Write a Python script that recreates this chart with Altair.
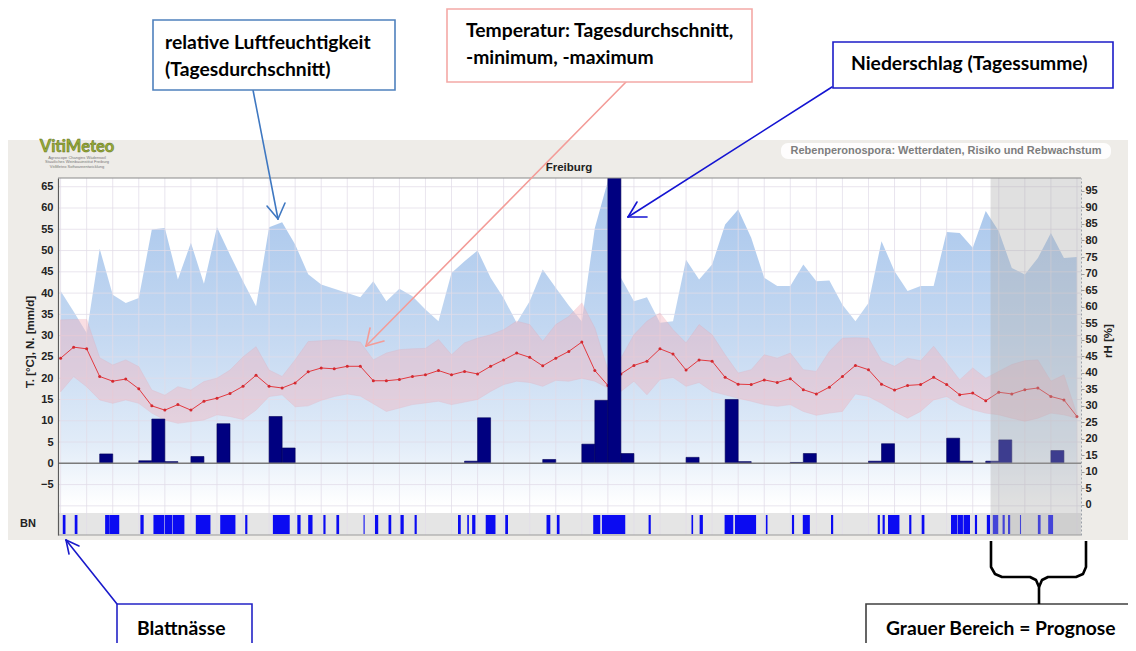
import altair as alt
import pandas as pd

# ---------------- data ----------------
day = list(range(79))

rel_humidity = [64.7, 58.5, 52.0, 77.5, 63.6, 61.1, 62.6, 83.3, 83.8, 68.2,
                79.3, 66.9, 84.0, 75.7, 67.7, 60.1, 84.0, 85.5, 78.8, 69.8,
                66.7, 65.4, 64.1, 62.8, 67.7, 61.6, 65.4, 63.1, 59.1, 55.6,
                70.2, 73.7, 77.0, 68.7, 62.6, 55.1, 61.6, 71.2, 65.7, 60.3,
                55.5, 83.8, 98.0, 68.7, 61.6, 62.8, 55.1, 55.6, 74.2, 68.2,
                72.7, 84.8, 89.4, 80.8, 68.7, 66.2, 66.2, 72.7, 67.7, 67.9,
                60.6, 55.6, 61.1, 79.8, 70.7, 64.7, 66.2, 66.2, 82.6, 82.3,
                77.8, 88.9, 82.8, 71.7, 69.7, 74.7, 82.3, 74.7, 75.0]

temp_mean = [24.7, 27.3, 26.9, 20.4, 19.3, 19.8, 17.5, 13.5, 12.5, 13.8,
             12.5, 14.6, 15.3, 16.4, 18.1, 20.7, 18.1, 17.7, 18.9, 21.5,
             22.4, 22.2, 22.8, 22.8, 19.4, 19.4, 19.7, 20.4, 20.8, 21.8,
             20.8, 21.6, 21.0, 22.8, 24.3, 25.9, 24.9, 22.9, 24.7, 26.3,
             28.5, 21.8, 18.3, 21.0, 23.0, 24.0, 26.9, 25.7, 21.9, 24.3,
             24.0, 20.2, 18.6, 18.5, 19.6, 19.0, 19.9, 17.3, 16.3, 17.9,
             20.4, 23.0, 22.0, 18.6, 17.2, 18.3, 18.5, 20.2, 18.5, 16.1,
             16.5, 14.7, 16.7, 16.3, 17.3, 17.7, 15.7, 14.9, 11.0]

temp_max = [33.7, 33.8, 33.8, 24.8, 23.1, 24.3, 22.7, 17.2, 16.0, 18.0,
            17.2, 19.2, 20.0, 21.9, 25.0, 27.4, 21.9, 20.4, 24.3, 28.6,
            28.8, 29.0, 28.8, 28.5, 24.3, 25.9, 26.7, 26.9, 27.0, 29.1,
            25.5, 28.3, 29.4, 30.2, 31.4, 33.4, 32.6, 28.7, 32.6, 34.5,
            37.7, 31.8, 22.0, 24.7, 30.2, 33.4, 35.3, 31.4, 28.3, 32.6,
            30.2, 25.5, 21.2, 22.0, 25.5, 24.7, 25.9, 22.0, 21.6, 26.3,
            29.4, 29.5, 29.4, 24.1, 22.8, 24.7, 24.1, 27.5, 23.6, 19.6,
            22.4, 20.0, 21.6, 23.2, 24.1, 24.3, 19.3, 20.8, 11.4]

temp_min = [16.8, 20.4, 18.0, 14.9, 14.1, 14.9, 14.1, 11.8, 10.2, 9.4,
            9.8, 10.2, 11.4, 11.0, 10.3, 12.5, 15.7, 16.1, 13.3, 13.5,
            14.8, 15.7, 16.3, 15.8, 14.0, 12.2, 13.0, 13.8, 14.2, 14.6,
            13.8, 14.4, 15.0, 16.9, 18.5, 19.3, 19.0, 18.1, 19.5, 19.3,
            20.0, 19.3, 17.7, 16.9, 19.3, 16.1, 19.7, 20.2, 18.1, 19.0,
            16.9, 16.1, 15.3, 14.6, 13.8, 13.4, 13.8, 12.2, 11.3, 11.8,
            12.2, 16.3, 15.7, 14.1, 12.2, 10.6, 12.2, 14.9, 15.7, 13.8,
            12.6, 11.8, 11.4, 10.6, 9.9, 10.6, 11.8, 11.4, 10.6]

precip = [0, 0, 0, 2.2, 0, 0, 0.6, 10.4, 0.4, 0,
          1.6, 0, 9.3, 0, 0, 0, 11.0, 3.6, 0, 0,
          0, 0, 0, 0, 0, 0, 0, 0, 0, 0,
          0, 0.5, 10.7, 0, 0, 0, 0, 0.9, 0, 0,
          4.5, 14.8, 75.0, 2.3, 0, 0, 0, 0, 1.4, 0,
          0, 15.0, 0.4, 0, 0, 0, 0.2, 2.3, 0, 0,
          0, 0, 0.5, 4.6, 0, 0, 0, 0, 5.9, 0.5,
          0, 0.5, 5.5, 0, 0, 0, 3.0, 0, 0]

# leaf wetness (Blattnaesse) periods, hours since start
bn_start_h = [4, 26, 82, 90, 147, 171, 192, 207, 249, 294, 340, 391, 436, 456, 484,
              508, 558, 579, 604, 626, 652, 732, 749, 758, 783, 819, 895, 914,
              981, 997, 1083, 1162, 1177, 1223, 1242, 1299, 1347, 1367, 1419,
              1505, 1514, 1524, 1563, 1586, 1640, 1652, 1663, 1684, 1706, 1717,
              1735, 1745, 1767, 1800, 1819]
bn_end_h = [9, 31, 90, 108, 153, 191, 206, 228, 276, 322, 344, 422, 442, 464, 488,
            513, 560, 585, 609, 632, 656, 737, 752, 764, 801, 824, 902, 919,
            994, 1040, 1087, 1165, 1183, 1239, 1281, 1302, 1351, 1380, 1423,
            1509, 1518, 1545, 1567, 1591, 1651, 1662, 1675, 1688, 1712, 1727,
            1739, 1749, 1769, 1805, 1828]

forecast_start_day = 71.37
y_left_ticks = list(range(-5, 70, 5))
y_right_ticks = list(range(0, 100, 5))
grid_days = list(range(0, 79, 2))
grid_levels = list(range(-10, 70, 5))

# ---------------- tables ----------------
daily = pd.DataFrame({"d": day, "rh": rel_humidity, "tmean": temp_mean,
                      "tmax": temp_max, "tmin": temp_min, "precip": precip})
daily["d1"] = daily["d"] + 1
bn = pd.DataFrame({"s": [h / 24 for h in bn_start_h], "e": [h / 24 for h in bn_end_h]})
one = pd.DataFrame({"a": [0]})

W, H = 1023, 357
X_DOM = [-0.2, 78.31]
XS = alt.Scale(domain=X_DOM, nice=False, zero=False)
YL = alt.Scale(domain=[-16.85, 67.05], nice=False, zero=False)
YR = alt.Scale(domain=[-9.08, 98.9], nice=False, zero=False)
AXF = "Liberation Sans"
CALLF = "Lato"

def X(field):
    return alt.X(field, type="quantitative", scale=XS, axis=None)

# ---------------- background ----------------
panel = alt.Chart(one).mark_rect(color="#eeece8").encode(
    x=alt.value(-50), x2=alt.value(1078), y=alt.value(-38), y2=alt.value(362))
plotbg = alt.Chart(one).mark_rect(color="#ffffff").encode(
    x=alt.value(0), x2=alt.value(W), y=alt.value(0), y2=alt.value(H))

grad = alt.Gradient(
    gradient="linear",
    stops=[alt.GradientStop(color="#a8c6ec", offset=0),
           alt.GradientStop(color="#c2d7f1", offset=0.45),
           alt.GradientStop(color="#e0ebf8", offset=0.8),
           alt.GradientStop(color="#ffffff", offset=1)],
    x1=1, x2=1, y1=0, y2=1)

humidity = alt.Chart(daily).mark_area(color=grad, interpolate="linear").encode(
    x=X("d"),
    y=alt.Y("rh:Q", scale=YR, axis=alt.Axis(
        orient="right", values=y_right_ticks, title=None, labelFont=AXF,
        labelFontWeight="bold", labelFontSize=11, labelColor="#222222",
        tickSize=3, tickColor="#9a9a9a", labelPadding=1, domainColor="#9aa0a8",
        domainDash=[2, 2], grid=False, zindex=3)),
    y2=alt.datum(0))

bn_band = alt.Chart(one).mark_rect(color="#e5e5e5").encode(
    x=alt.value(0), x2=alt.value(W), y=alt.value(335), y2=alt.value(357))

vgrid = alt.Chart(pd.DataFrame({"g": grid_days})).mark_rule(
    color="#e2dce8", strokeWidth=1, opacity=0.75).encode(
    x=X("g"), y=alt.value(0), y2=alt.value(H))
hgrid = alt.Chart(pd.DataFrame({"v": grid_levels})).mark_rule(
    color="#e2dce8", strokeWidth=1, opacity=0.75).encode(
    y=alt.Y("v:Q", scale=YL, axis=None), x=alt.value(0), x2=alt.value(W))

band = alt.Chart(daily).mark_area(
    color="#f2b3bd", opacity=0.42, stroke="#ea96a2", strokeWidth=0.8,
    strokeOpacity=0.65, interpolate="linear").encode(
    x=X("d"), y=alt.Y("tmax:Q", scale=YL, axis=None), y2="tmin:Q")

tline = alt.Chart(daily).mark_line(
    color="#e23a40", strokeWidth=1,
    point=alt.OverlayMarkDef(filled=True, size=9, color="#d42a30")).encode(
    x=X("d"),
    y=alt.Y("tmean:Q", scale=YL, axis=alt.Axis(
        orient="left", values=y_left_ticks, title=None, labelFont=AXF,
        labelFontWeight="bold", labelFontSize=11, labelColor="#222222",
        ticks=False, labelPadding=5, domainColor="#5a5a5a", domainWidth=1.2,
        grid=False, zindex=3)))

bars = alt.Chart(daily).transform_filter("datum.precip > 0").mark_rect(
    color="#000080", stroke="#000058", strokeWidth=0.6, clip=True).encode(
    x=X("d"), x2="d1:Q", y=alt.Y("precip:Q", scale=YL, axis=None), y2=alt.datum(0))

zero = alt.Chart(one).mark_rule(color="#7a7a7a", strokeWidth=1.5).encode(
    y=alt.Y(datum=0, type="quantitative", scale=YL, axis=None),
    x=alt.value(0), x2=alt.value(W))

bnbars = alt.Chart(bn).mark_rect(color="#0b0bf2").encode(
    x=X("s"), x2="e:Q", y=alt.value(337), y2=alt.value(356))

forecast = alt.Chart(pd.DataFrame({"fs": [forecast_start_day], "fe": [X_DOM[1]]})).mark_rect(
    color="#a9a9a9", opacity=0.36).encode(
    x=X("fs"), x2="fe:Q", y=alt.value(0), y2=alt.value(H))

topline = alt.Chart(one).mark_rule(color="#8a8a8a", strokeWidth=1.2).encode(
    x=alt.value(0), x2=alt.value(W), y=alt.value(0))
botline = alt.Chart(one).mark_rule(color="#9a9a9a", strokeWidth=1).encode(
    x=alt.value(0), x2=alt.value(W), y=alt.value(H))

# ---------------- texts inside the panel ----------------
def txt(text, x, y, size=11, weight="bold", color="#222222", font=AXF,
        align="center", angle=0, **kw):
    return alt.Chart(one).mark_text(
        text=text, fontSize=size, fontWeight=weight, color=color, font=font,
        align=align, baseline="middle", angle=angle, **kw).encode(
        x=alt.value(x), y=alt.value(y))

sub_bg = alt.Chart(one).mark_rect(color="#ffffff", cornerRadius=7, opacity=0.9).encode(
    x=alt.value(723), x2=alt.value(1053), y=alt.value(-35), y2=alt.value(-19))

texts = [
    txt("Freiburg", 511, -10, size=11.5),
    sub_bg,
    txt("Rebenperonospora: Wetterdaten, Risiko und Rebwachstum", 888, -27,
        size=11, color="#7d7d7d"),
    txt("T. [°C], N. [mm/d]", -27, 164, size=11.5, angle=270),
    txt("rH [%]", 1051, 163, size=11.5, angle=270),
    txt("BN", -30, 346, size=11),
    txt("VitiMeteo", 19, -31.5, size=16.5, color="#98ad36", font=CALLF,
        stroke="#5d6d1c", strokeWidth=0.5),
    txt("Agroscope Changins Wädenswil", 19, -20.5, size=4, weight="normal", color="#777777"),
    txt("Staatliches Weinbauinstitut Freiburg", 19, -16, size=4, weight="normal", color="#777777"),
    txt("VitiMeteo Softwareentwicklung", 19, -11.5, size=4, weight="normal", color="#777777"),
]

# ---------------- callouts ----------------
boxes = pd.DataFrame({
    "x1": [95, 389, 775, 59, 808], "x2": [337, 694, 1055, 194, 1085],
    "y1": [-158, -169, -136, 426, 426], "y2": [-88, -96, -90, 490, 490],
    "c": ["#4f81bd", "#f4a9a6", "#1c1cc8", "#2323c6", "#404040"]})
box_layer = alt.Chart(boxes).mark_rect(fill="#ffffff", strokeWidth=1.6).encode(
    x=alt.X("x1:Q", scale=None), x2="x2:Q",
    y=alt.Y("y1:Q", scale=None), y2="y2:Q",
    stroke=alt.Stroke("c:N", scale=None, legend=None))

labels = pd.DataFrame({
    "x": [107, 107, 408, 408, 793, 79, 828],
    "y": [-135, -108, -147, -120, -114, 451, 451],
    "t": ["relative Luftfeuchtigkeit", "(Tagesdurchschnitt)",
          "Temperatur: Tagesdurchschnitt,", "-minimum, -maximum",
          "Niederschlag (Tagessumme)", "Blattnässe", "Grauer Bereich = Prognose"]})
label_layer = alt.Chart(labels).mark_text(
    align="left", baseline="middle", font=CALLF, fontWeight="bold",
    fontSize=19.3, color="#000000").encode(
    x=alt.X("x:Q", scale=None), y=alt.Y("y:Q", scale=None), text="t:N")

segs = pd.DataFrame({
    "x1": [195, 220, 220, 568, 308, 308, 774, 570, 570, 59, 8, 8],
    "y1": [-88, 41, 41, -96, 168, 168, -91, 39, 39, 426, 362, 362],
    "x2": [220, 209, 227, 308, 312, 326, 570, 579, 589, 8, 11, 21],
    "y2": [41, 28, 25, 168, 150, 163, 39, 24, 39, 362, 376, 368],
    "c": ["#3f78c1"] * 3 + ["#f39c98"] * 3 + ["#1414d2"] * 3 + ["#1a1acb"] * 3})
arrow_layer = alt.Chart(segs).mark_rule(strokeWidth=1.6, strokeCap="round").encode(
    x=alt.X("x1:Q", scale=None), y=alt.Y("y1:Q", scale=None),
    x2="x2:Q", y2="y2:Q", color=alt.Color("c:N", scale=None, legend=None))

brace = pd.DataFrame({
    "px": [933, 933, 937, 944, 972, 978, 981, 981,
           981, 984, 990, 1018, 1025, 1028, 1028],
    "py": [363, 389, 396, 399, 399, 402, 409, 426,
           409, 402, 399, 399, 396, 389, 363],
    "k": list(range(15)),
    "part": ["a"] * 8 + ["b"] * 7})
brace_layer = alt.Chart(brace).mark_line(color="#000000", strokeWidth=2.6,
                                         strokeJoin="round").encode(
    x=alt.X("px:Q", scale=None), y=alt.Y("py:Q", scale=None),
    order="k:Q", detail="part:N")

chart = alt.layer(
    panel, plotbg, humidity, bn_band, vgrid, hgrid, band, tline, bars, zero,
    bnbars, forecast, topline, botline, *texts,
    arrow_layer, box_layer, label_layer, brace_layer
).resolve_scale(y="independent", x="independent").properties(
    width=W, height=H,
    autosize=alt.AutoSizeParams(type="none"),
    padding={"left": 50, "top": 170, "right": 47, "bottom": 108},
    background="#ffffff",
).configure_view(stroke=None)

chart.save("out.html", embed_options={"renderer": "svg", "actions": False})
